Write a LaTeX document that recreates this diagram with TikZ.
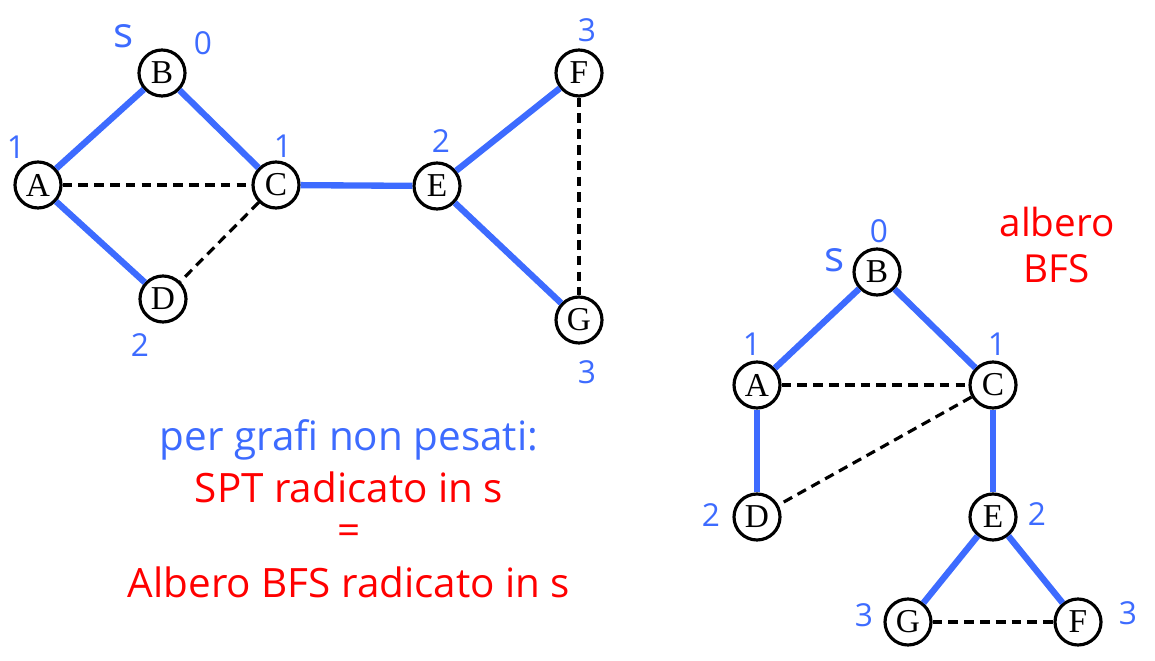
\documentclass[tikz,border=0pt]{standalone}
\usepackage{fontspec}
\setmainfont{Liberation Serif}
\newfontfamily\handfont{Open Sans}
\definecolor{treeblue}{RGB}{61,107,255}
\definecolor{noteRed}{RGB}{255,0,0}

\begin{document}
\begin{tikzpicture}[x=0.02cm, y=-0.02cm,
    vtx/.style={circle, draw, line width=1.8pt, fill=white, minimum size=0.92cm, inner sep=0pt,
      font=\fontsize{19}{19}\selectfont},
    tedge/.style={draw=treeblue, line width=3.6pt},
    nedge/.style={draw=black, line width=1.8pt, dash pattern=on 5.5pt off 3.5pt},
    dist/.style={text=treeblue, font=\handfont\fontsize{18}{18}\selectfont, inner sep=0pt},
    srclab/.style={text=treeblue, font=\handfont\fontsize{24}{24}\selectfont, inner sep=0pt},
    note/.style={font=\handfont\fontsize{23}{27}\selectfont, inner sep=0pt}]
  \useasboundingbox (0,0) rectangle (1155,661);

  % grafo di partenza
  \node[vtx] (B1) at (162,73) {B};
  \node[vtx] (A1) at (38,185) {A};
  \node[vtx] (C1) at (276,185) {C};
  \node[vtx] (D1) at (163,299) {D};
  \node[vtx] (E1) at (437,186) {E};
  \node[vtx] (F1) at (579,73) {F};
  \node[vtx] (G1) at (579,320) {G};
  \draw[tedge] (A1)--(B1);
  \draw[tedge] (B1)--(C1);
  \draw[tedge] (A1)--(D1);
  \draw[tedge] (C1)--(E1);
  \draw[tedge] (E1)--(F1);
  \draw[tedge] (E1)--(G1);
  \draw[nedge] (A1)--(C1);
  \draw[nedge] (C1)--(D1);
  \draw[nedge] (F1)--(G1);
  \node[srclab] (s1) at (124,36) {s};
  \node[dist] (dB1) at (203,43) {0};
  \node[dist] (dA1) at (16,147) {1};
  \node[dist] (dC1) at (283,146) {1};
  \node[dist] (dD1) at (140,345) {2};
  \node[dist] (dE1) at (441,141) {2};
  \node[dist] (dF1) at (587,30) {3};
  \node[dist] (dG1) at (587,372) {3};

  % albero BFS
  \node[vtx] (B2) at (877,272) {B};
  \node[vtx] (A2) at (757,385) {A};
  \node[vtx] (C2) at (993,385) {C};
  \node[vtx] (D2) at (757,517) {D};
  \node[vtx] (E2) at (993,517) {E};
  \node[vtx] (G2) at (908,622) {G};
  \node[vtx] (F2) at (1078,622) {F};
  \draw[tedge] (B2)--(A2);
  \draw[tedge] (B2)--(C2);
  \draw[tedge] (A2)--(D2);
  \draw[tedge] (C2)--(E2);
  \draw[tedge] (E2)--(G2);
  \draw[tedge] (E2)--(F2);
  \draw[nedge] (A2)--(C2);
  \draw[nedge] (C2)--(D2);
  \draw[nedge] (G2)--(F2);
  \node[srclab] (s2) at (835,260) {s};
  \node[dist] (dB2) at (879,231) {0};
  \node[dist] (dA2) at (752,344) {1};
  \node[dist] (dC2) at (997,344) {1};
  \node[dist] (dD2) at (711,515) {2};
  \node[dist] (dE2) at (1037,514) {2};
  \node[dist] (dG2) at (864,615) {3};
  \node[dist] (dF2) at (1128,613) {3};
  \node[note, text=noteRed, align=center, font=\handfont\fontsize{22}{26}\selectfont] (title) at (1057,245) {albero\\BFS};

  % didascalia
  \node[note, text=treeblue] (cap1) at (349,440) {per grafi non pesati:};
  \node[note, text=noteRed] (cap2) at (349,487) {SPT radicato in s};
  \node[note, text=noteRed] (cap3) at (349,535) {=};
  \node[note, text=noteRed] (cap4) at (349,582) {Albero BFS radicato in s};
\end{tikzpicture}
\end{document}
